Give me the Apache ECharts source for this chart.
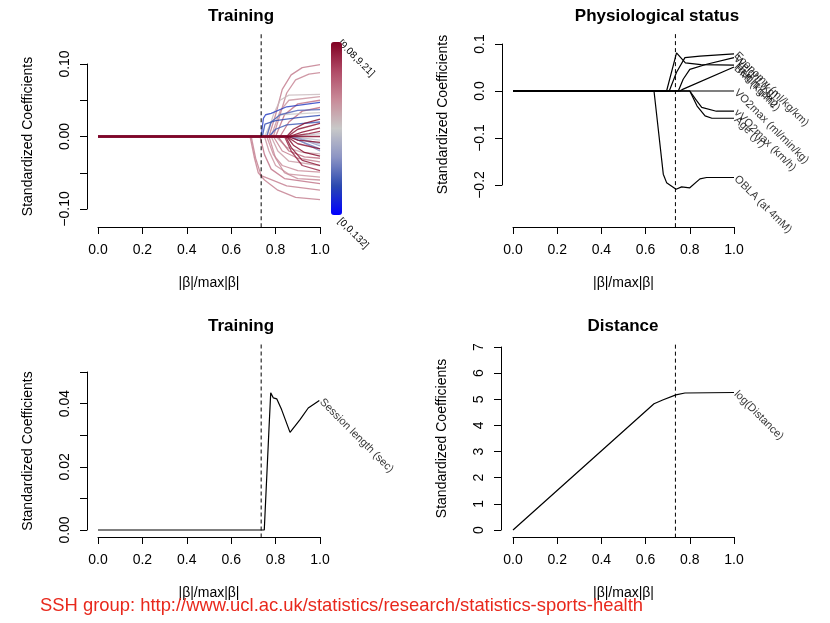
<!DOCTYPE html>
<html>
<head>
<meta charset="utf-8">
<script src="https://cdn.jsdelivr.net/npm/echarts@6/dist/echarts.min.js"></script>
<style>
html, body { margin: 0; padding: 0; background: #fff; }
#chart { width: 830px; height: 623px; }
</style>
</head>
<body>
<div id="chart"></div>
<script>
// 数据
var cutX = 0.735; // dashed selection line

// top left: training coefficients, colour value of each path
var trainVal = [6.6, 6.4, 5.0, 6.0, 6.8, 7.0, 4.6, 6.5, 6.5, 6.8, 6.0, 6.2, 5.8, 6.5, 5.5, 7.0, 6.3,
                4.2, 3.6, 3.2, 4.4,
                1.2, 1.5, 2.0, 1.8, 2.5, 2.8,
                9.1, 9.0, 9.1, 8.8, 9.1, 9.0, 9.2, 8.9, 8.5, 9.2];
var trainPath = [
  [[0,0],[0.77,0],[0.80,0.03],[0.83,0.065],[0.87,0.085],[0.92,0.095],[1,0.099]],
  [[0,0],[0.79,0],[0.82,0.03],[0.85,0.06],[0.89,0.078],[0.95,0.086],[1,0.088]],
  [[0,0],[0.76,0],[0.79,0.03],[0.82,0.05],[0.86,0.057],[1,0.058]],
  [[0,0],[0.78,0],[0.82,0.035],[0.86,0.05],[1,0.055]],
  [[0,0],[0.80,0],[0.84,0.03],[0.90,0.045],[1,0.05]],
  [[0,0],[0.82,0],[0.86,0.02],[0.92,0.035],[1,0.04]],
  [[0,0],[0.75,0],[0.78,0.02],[0.82,0.03],[1,0.033]],
  [[0,0],[0.685,0],[0.705,-0.03],[0.722,-0.05],[0.75,-0.06],[0.81,-0.074],[0.89,-0.084],[1,-0.087]],
  [[0,0],[0.69,0],[0.71,-0.03],[0.735,-0.054],[0.80,-0.062],[0.85,-0.068],[1,-0.074]],
  [[0,0],[0.73,0],[0.75,-0.025],[0.78,-0.045],[0.84,-0.058],[1,-0.065]],
  [[0,0],[0.75,0],[0.77,-0.02],[0.80,-0.04],[0.86,-0.052],[1,-0.056]],
  [[0,0],[0.76,0],[0.79,-0.025],[0.83,-0.04],[0.90,-0.047],[1,-0.049]],
  [[0,0],[0.78,0],[0.81,-0.02],[0.86,-0.034],[1,-0.04]],
  [[0,0],[0.79,0],[0.83,-0.02],[0.90,-0.03],[1,-0.035]],
  [[0,0],[0.80,0],[0.85,-0.015],[0.92,-0.022],[1,-0.024]],
  [[0,0],[0.81,0],[0.86,-0.02],[0.93,-0.028],[1,-0.03]],
  [[0,0],[0.77,0],[0.80,-0.03],[0.84,-0.05],[0.90,-0.058],[1,-0.06]],
  [[0,0],[0.86,0],[1,-0.005]],
  [[0,0],[0.87,0],[1,-0.01]],
  [[0,0],[0.88,0],[1,-0.013]],
  [[0,0],[0.88,0],[1,0.004]],
  [[0,0],[0.735,0],[0.745,0.025],[0.755,0.03],[0.78,0.032],[0.85,0.041],[1,0.047]],
  [[0,0],[0.74,0],[0.752,0.017],[0.80,0.022],[0.90,0.026],[1,0.029]],
  [[0,0],[0.76,0],[0.78,0.02],[0.82,0.03],[0.90,0.036],[1,0.037]],
  [[0,0],[0.77,0],[0.80,0.01],[0.85,0.016],[1,0.02]],
  [[0,0],[0.86,0],[1,-0.017]],
  [[0,0],[0.87,0],[1,-0.02]],
  [[0,0],[0.85,0],[0.88,0.01],[0.93,0.018],[1,0.024]],
  [[0,0],[0.855,0],[0.90,0.01],[1,0.018]],
  [[0,0],[0.86,0],[0.92,0.006],[1,0.012]],
  [[0,0],[0.86,0],[0.95,0.004],[1,0.007]],
  [[0,0],[0.855,0],[0.90,-0.005],[1,-0.008]],
  [[0,0],[0.85,0],[0.90,-0.01],[1,-0.017]],
  [[0,0],[0.85,0],[0.88,-0.012],[0.93,-0.022],[1,-0.027]],
  [[0,0],[0.845,0],[0.87,-0.015],[0.92,-0.033],[1,-0.04]],
  [[0,0],[0.84,0],[0.87,-0.02],[0.92,-0.04],[1,-0.047]],
  [[0,0],[1,0]]
];
var trainRange = ['[0,0.132]', '[9.08,9.21]'];

// top right: physiological status
var physLabels = ['Economy (ml/kg/km)', 'Weight (kg)', 'Height (cm)', 'BMI (kg/m2)',
                  'VO2max (ml/min/kg)', 'vVO2max (km/h)', 'Age (yr)', 'OBLA (at 4mM)'];
var physPath = [
  [[0,0],[0.707,0],[0.74,0.04],[0.778,0.071],[0.846,0.074],[1,0.079]],
  [[0,0],[0.748,0],[0.77,0.025],[0.80,0.046],[0.876,0.057],[1,0.071]],
  [[0,0],[0.695,0],[0.74,0.081],[0.757,0.072],[0.78,0.06],[0.85,0.056],[1,0.055]],
  [[0,0],[0.755,0],[0.77,0.004],[1,0.051]],
  [[0,0],[1,0]],
  [[0,0],[0.80,0],[0.83,-0.02],[0.854,-0.035],[0.92,-0.043],[1,-0.043]],
  [[0,0],[0.80,0],[0.833,-0.032],[0.869,-0.053],[0.90,-0.058],[1,-0.058]],
  [[0,0],[0.638,0],[0.68,-0.177],[0.695,-0.195],[0.738,-0.209],[0.763,-0.204],[0.80,-0.206],[0.846,-0.187],[0.876,-0.184],[1,-0.184]]
];

// bottom left: session length
var sessX = [0, 0.749, 0.77, 0.778, 0.79, 0.805, 0.827, 0.865, 0.91, 0.947, 0.997];
var sessY = [0, 0, 0.0317, 0.0434, 0.0418, 0.0415, 0.0381, 0.0309, 0.0349, 0.0386, 0.041];

// bottom right: log distance
var distX = [0, 0.638, 0.68, 0.737, 0.778, 1.0];
var distY = [0, 4.83, 4.98, 5.17, 5.24, 5.26];

// vertical extent of the dashed line in each panel
var cutTop = [0.141, 0.121, 0.0587, 7.09];
var cutBottom = [-0.1255, -0.291, -0.0022, -0.27];

var titles = ['Training', 'Physiological status', 'Training', 'Distance'];
var titleX = [241, 657, 241, 623];
var titleY = [8, 8, 318, 318];

var grids = [
  { left: 98, top: 64, width: 222, height: 145 },
  { left: 513, top: 44, width: 221, height: 141 },
  { left: 98, top: 372, width: 222, height: 158 },
  { left: 513, top: 347, width: 221, height: 183 }
];
var xOffset = [18, 42, 7, 7];
var yOffset = [11, 11, 11, 12];
var yMin = [-0.1, -0.2, 0, 0];
var yMax = [0.1, 0.1, 0.05, 7];
var yStep = [0.05, 0.1, 0.01, 1];

var FONT = 'Liberation Sans, Arial, Helvetica, sans-serif';

// blue - grey - red palette of the colour bar
var palette = ['#0000ff', '#2a48b0', '#8c94c4', '#c8c8c8', '#c88a98', '#b04a66', '#800022'];
function hex(c) { return [parseInt(c.substr(1,2),16), parseInt(c.substr(3,2),16), parseInt(c.substr(5,2),16)]; }
function paletteColor(v) {
  var t = v / 9.21 * (palette.length - 1);
  var i = Math.min(Math.floor(t), palette.length - 2);
  var f = t - i;
  var a = hex(palette[i]), b = hex(palette[i + 1]);
  return 'rgb(' + [0,1,2].map(function (k) { return Math.round(a[k] + (b[k] - a[k]) * f); }).join(',') + ')';
}

function yLabel(i) {
  return function (v) {
    var s;
    if (i === 0) {
      if (Math.round(v * 100) % 10 !== 0) return '';
      s = v.toFixed(2);
    } else if (i === 1) {
      s = v.toFixed(1);
    } else if (i === 2) {
      if (Math.round(v * 100) % 2 !== 0) return '';
      s = v.toFixed(2);
    } else {
      s = String(Math.round(v));
    }
    return s.replace('-', '\u2212');
  };
}

var xAxes = [], yAxes = [], series = [], titleList = [];
for (var i = 0; i < 4; i++) {
  xAxes.push({
    gridIndex: i, type: 'value', min: 0, max: 1, interval: 0.2, offset: xOffset[i],
    name: '|\u03b2|/max|\u03b2|', nameLocation: 'middle', nameGap: 49,
    nameTextStyle: { color: '#000', fontSize: 14, fontFamily: FONT },
    axisLine: { show: true, onZero: false, lineStyle: { color: '#000', width: 1 } },
    axisTick: { show: true, length: 7, lineStyle: { color: '#000' } },
    axisLabel: { margin: 16, color: '#000', fontSize: 14, fontFamily: FONT,
                 formatter: function (v) { return v.toFixed(1); } },
    splitLine: { show: false }
  });
  yAxes.push({
    gridIndex: i, type: 'value', min: yMin[i], max: yMax[i], interval: yStep[i], offset: yOffset[i],
    name: 'Standardized Coefficients', nameLocation: 'middle', nameGap: 52,
    nameTextStyle: { color: '#000', fontSize: 14, fontFamily: FONT },
    axisLine: { show: true, onZero: false, lineStyle: { color: '#000', width: 1 } },
    axisTick: { show: true, length: 7, lineStyle: { color: '#000' } },
    axisLabel: { margin: 15, rotate: 90, color: '#000', fontSize: 14, fontFamily: FONT,
                 formatter: yLabel(i) },
    splitLine: { show: false }
  });
  titleList.push({
    text: titles[i], left: titleX[i], top: titleY[i], textAlign: 'center', padding: 0,
    textStyle: { fontSize: 17, fontWeight: 'bold', color: '#000', fontFamily: FONT }
  });
}
titleList.push({
  text: 'SSH group: http://www.ucl.ac.uk/statistics/research/statistics-sports-health',
  left: 40, top: 597, padding: 0,
  textStyle: { fontSize: 18.4, fontWeight: 'normal', color: '#e8281c', fontFamily: FONT }
});

function lineSeries(g, data, color, width, opacity) {
  return {
    type: 'line', xAxisIndex: g, yAxisIndex: g, data: data, symbol: 'none', clip: false,
    silent: true, animation: false,
    lineStyle: { color: color, width: width, opacity: opacity }
  };
}

function endLabels(g, data) {
  return {
    type: 'scatter', xAxisIndex: g, yAxisIndex: g, symbolSize: 0, silent: true, animation: false,
    data: data,
    label: { show: true, position: 'right', distance: 2, rotate: -45, formatter: '{b}',
             color: '#000', fontSize: 11, fontFamily: FONT }
  };
}

// panel 1
trainPath.forEach(function (p, k) {
  series.push(lineSeries(0, p, paletteColor(trainVal[k]), 1.3, 0.8));
});
// panel 2
physPath.forEach(function (p) { series.push(lineSeries(1, p, '#000', 1.2, 1)); });
series.push(endLabels(1, physPath.map(function (p, k) {
  return { value: p[p.length - 1], name: physLabels[k] };
})));
// panel 3
series.push(lineSeries(2, sessX.map(function (x, k) { return [x, sessY[k]]; }), '#000', 1.2, 1));
series.push(endLabels(2, [{ value: [sessX[sessX.length - 1], sessY[sessY.length - 1]], name: 'Session length (sec)' }]));
// panel 4
series.push(lineSeries(3, distX.map(function (x, k) { return [x, distY[k]]; }), '#000', 1.2, 1));
series.push(endLabels(3, [{ value: [distX[distX.length - 1], distY[distY.length - 1]], name: 'log(Distance)' }]));
// dashed selected-model lines
for (var g = 0; g < 4; g++) {
  var s = lineSeries(g, [[cutX, cutTop[g]], [cutX, cutBottom[g]]], '#000', 1, 1);
  s.lineStyle.type = [4, 3];
  series.push(s);
}
// carrier for the colour bar only
series.push({ type: 'scatter', xAxisIndex: 0, yAxisIndex: 0, data: [], silent: true });
var barSeries = series.length - 1;

var chart = echarts.init(document.getElementById('chart'), null, { renderer: 'canvas' });
chart.setOption({
  backgroundColor: '#fff',
  animation: false,
  title: titleList,
  grid: grids.map(function (g) { g.outerBoundsMode = 'none'; return g; }),
  xAxis: xAxes,
  yAxis: yAxes,
  visualMap: {
    type: 'continuous', min: 0, max: 9.21, seriesIndex: barSeries,
    left: 331, top: 42, itemWidth: 11, itemHeight: 173, padding: 0,
    calculable: false, hoverLink: false, showLabel: false,
    inRange: { color: palette }
  },
  graphic: [
    { type: 'text', x: 343, y: 38, rotation: -Math.PI / 4,
      style: { text: trainRange[1], fill: '#000', font: '10px ' + FONT } },
    { type: 'text', x: 343, y: 216, rotation: -Math.PI / 4,
      style: { text: trainRange[0], fill: '#000', font: '10px ' + FONT } }
  ],
  series: series
});
</script>
</body>
</html>
